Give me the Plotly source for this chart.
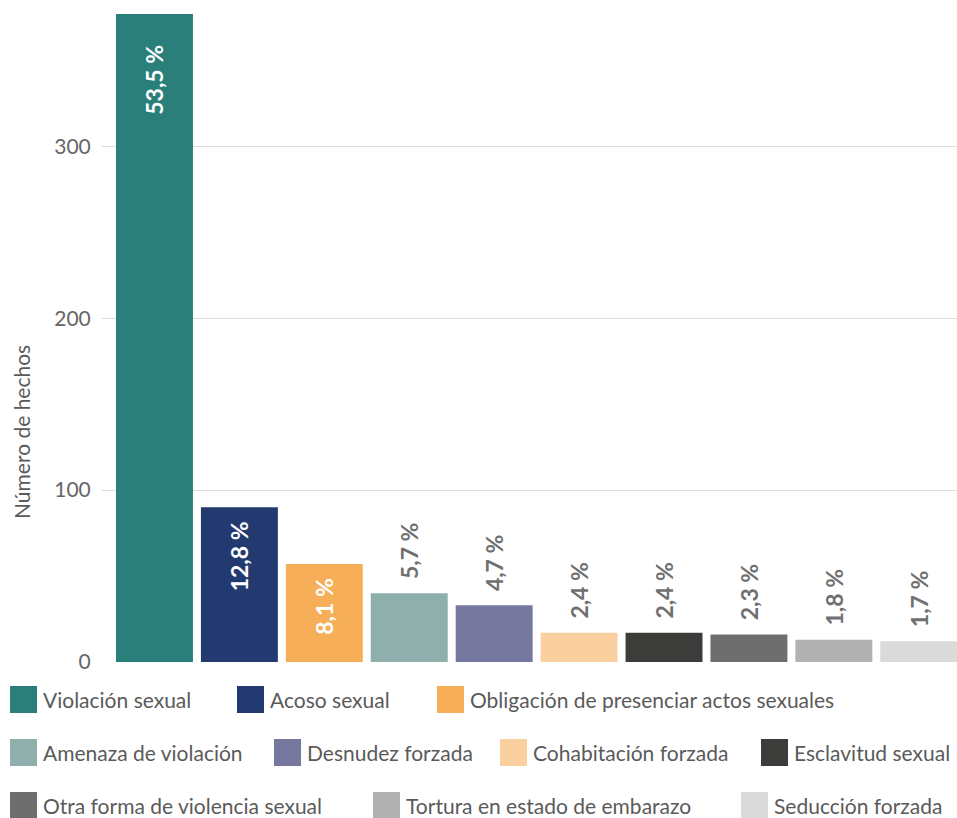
import plotly.graph_objects as go

categories = [
    "Violación sexual", "Acoso sexual", "Obligación de presenciar actos sexuales",
    "Amenaza de violación", "Desnudez forzada", "Cohabitación forzada",
    "Esclavitud sexual", "Otra forma de violencia sexual",
    "Tortura en estado de embarazo", "Seducción forzada",
]
counts = [377, 90, 57, 40, 33, 17, 17, 16, 13, 12]
pct_labels = ["53,5 %", "12,8 %", "8,1 %", "5,7 %", "4,7 %", "2,4 %", "2,4 %", "2,3 %", "1,8 %", "1,7 %"]
colors = ["#2b7f7b", "#233a70", "#f6ae59", "#8eafab", "#76789f",
          "#fad0a0", "#3c3c3b", "#6e6e6e", "#b1b1b1", "#dadada"]
y_ticks = [0, 100, 200, 300]

FONT = "Lato, 'Open Sans', sans-serif"
W, H = 957, 818
L, T, R, B = 102, 14, 0, 156
PW = W - L - R
PH = H - T - B

inside = [True, True, True] + [False] * 7
pads = [5, 2, 2] + [2] * 7
NB = "\u00a0"
texts = [(t + NB * p) if ins else (NB * p + t) for t, ins, p in zip(pct_labels, inside, pads)]
xs = list(range(len(categories)))

fig = go.Figure()
fig.add_trace(go.Bar(
    x=xs, y=counts, width=0.906,
    marker=dict(color=colors, line=dict(width=0)),
    text=texts,
    textposition=["inside" if i else "outside" for i in inside],
    insidetextanchor="end",
    textangle=-90,
    constraintext="none",
    cliponaxis=False,
    insidetextfont=dict(family=FONT, size=23, color="white", weight="bold"),
    outsidetextfont=dict(family=FONT, size=23, color="#707070", weight="bold"),
    hovertext=categories,
    showlegend=False,
))

def px_x(px):
    return (px - L) / PW

def px_y(py):
    return (H - B - py) / PH

legend_pos = [
    (10, 699.5), (237, 699.5), (437, 699.5),
    (10, 752.5), (274, 752.5), (500, 752.5), (761, 752.5),
    (10, 805.5), (373, 805.5), (741, 805.5),
]
SW = 27
shapes = []
annotations = []
for name, col, (lx, ly) in zip(categories, colors, legend_pos):
    shapes.append(dict(type="rect", xref="paper", yref="paper",
                       x0=px_x(lx), x1=px_x(lx + SW),
                       y0=px_y(ly + SW / 2), y1=px_y(ly - SW / 2),
                       fillcolor=col, line=dict(width=0), layer="above"))
    annotations.append(dict(xref="paper", yref="paper", x=px_x(lx + SW + 4), y=px_y(ly),
                            xanchor="left", yanchor="middle", text=name, showarrow=False,
                            font=dict(family=FONT, size=21, color="#5a5a5a")))

annotations.append(dict(xref="paper", yref="paper", x=px_x(21), y=px_y(432),
                        xanchor="center", yanchor="middle", text="Número de hechos",
                        textangle=-90, showarrow=False,
                        font=dict(family=FONT, size=21, color="#5a5a5a")))

fig.update_layout(
    width=W, height=H,
    margin=dict(l=L, r=R, t=T, b=B, pad=0),
    paper_bgcolor="white", plot_bgcolor="white",
    bargap=0.09,
    font=dict(family=FONT),
    xaxis=dict(range=[-0.618, 9.45], showticklabels=False, showgrid=False,
               zeroline=False, showline=False, ticks=""),
    yaxis=dict(range=[0, 377], tickvals=y_ticks, showgrid=True, gridcolor="#dcdcdc",
               gridwidth=1, zeroline=False, showline=False, ticks="outside",
               ticklen=6, tickcolor="rgba(0,0,0,0)",
               tickfont=dict(family=FONT, size=21, color="#666666")),
    shapes=shapes,
    annotations=annotations,
)

fig.write_html("out.html",
               config={"displayModeBar": False},
               post_script="document.body.style.margin='0';document.body.style.overflow='hidden';")
